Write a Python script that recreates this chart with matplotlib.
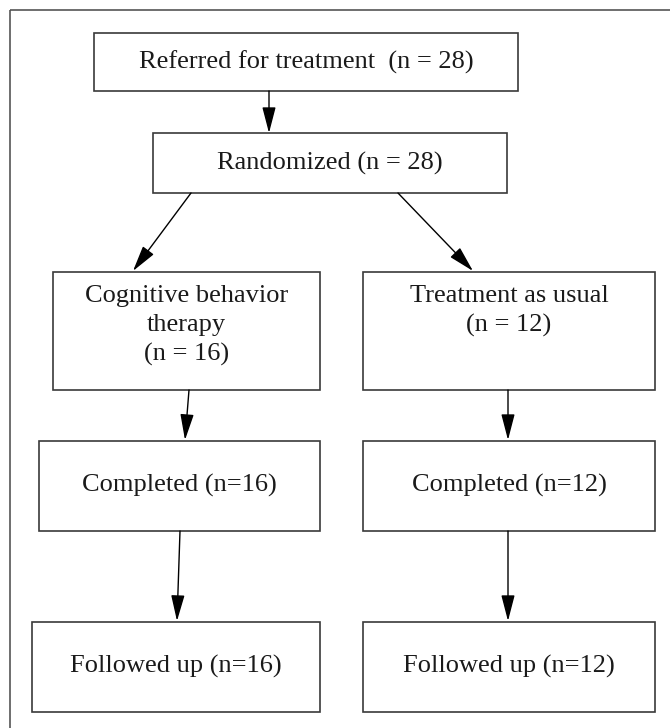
import matplotlib
matplotlib.use('Agg')
from matplotlib import pyplot as plt
from matplotlib.patches import Rectangle

# box texts
top_labels = ['Referred for treatment  (n = 28)', 'Randomized (n = 28)']
arm_labels = ['Cognitive behavior\ntherapy\n(n = 16)', 'Treatment as usual\n(n = 12)']
completed_labels = ['Completed (n=16)', 'Completed (n=12)']
followed_labels = ['Followed up (n=16)', 'Followed up (n=12)']

plt.rcParams['font.family'] = ['Liberation Serif', 'DejaVu Serif']

fig = plt.figure(figsize=(6.7, 7.28), dpi=100)
ax = fig.add_axes([0, 0, 1, 1])
ax.set_xlim(0, 670)
ax.set_ylim(728, 0)
ax.axis('off')

edge = '#3a3a3a'
fs = 19


def box(x0, y0, x1, y1, text, va='center', ty=None):
    ax.add_patch(Rectangle((x0, y0), x1 - x0, y1 - y0, fill=False,
                           edgecolor=edge, linewidth=1.2))
    if ty is None:
        ty = (y0 + y1) / 2
    ax.text((x0 + x1) / 2, ty, text, ha='center', va=va, fontsize=fs,
            color='#1a1a1a', linespacing=1.4)


def arrow(x0, y0, x1, y1):
    ax.annotate('', xy=(x1, y1), xytext=(x0, y0),
                arrowprops=dict(arrowstyle='-|>,head_length=1.0,head_width=0.26',
                                mutation_scale=16, color='black', lw=1.0,
                                shrinkA=0, shrinkB=0))


# outer frame (cut at right and bottom)
ax.add_patch(Rectangle((10, 10), 670, 730, fill=False, edgecolor='#555555', linewidth=1.2))

box(94, 33, 518, 91, top_labels[0], ty=62)
box(153, 133, 507, 193, top_labels[1], ty=163)
box(53, 272, 320, 390, arm_labels[0], va='top', ty=285)
box(363, 272, 655, 390, arm_labels[1], va='top', ty=285)
box(39, 441, 320, 531, completed_labels[0], ty=485)
box(363, 441, 655, 531, completed_labels[1], ty=485)
box(32, 622, 320, 712, followed_labels[0], ty=666)
box(363, 622, 655, 712, followed_labels[1], ty=666)

arrow(269, 91, 269, 133)
arrow(191, 193, 133, 271)
arrow(398, 193, 473, 271)
arrow(189, 390, 185, 440)
arrow(508, 390, 508, 440)
arrow(180, 531, 177, 621)
arrow(508, 531, 508, 621)

fig.savefig('out.png', dpi=100)
plt.close()
